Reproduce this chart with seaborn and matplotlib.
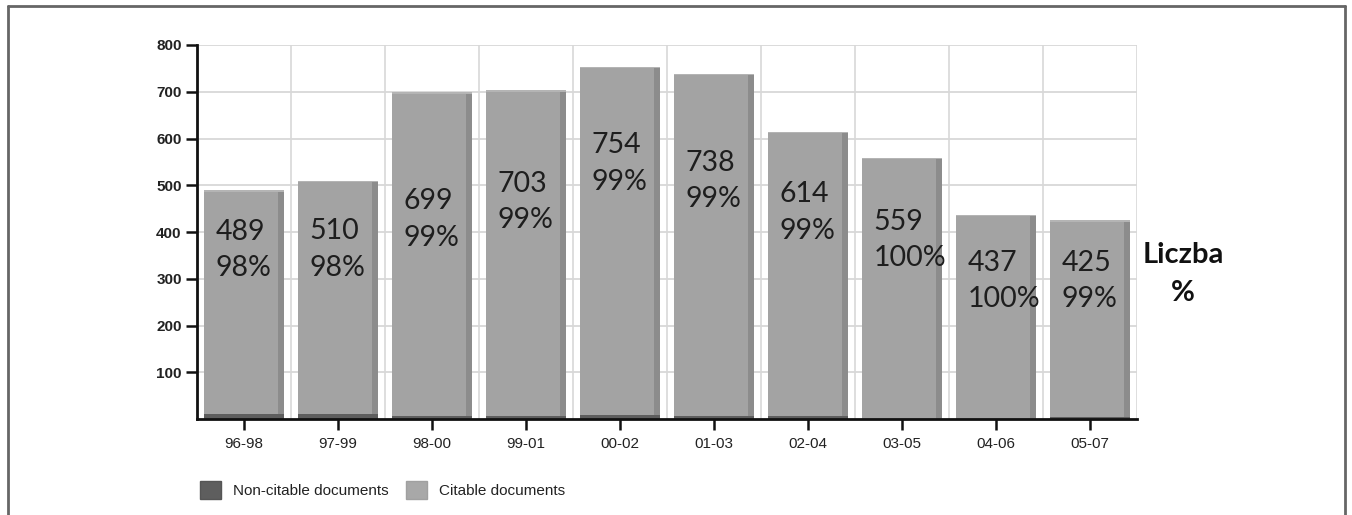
import matplotlib
matplotlib.use("Agg")
import matplotlib.pyplot as plt
import seaborn as sns
import pandas as pd
from matplotlib.patches import Rectangle, Patch
from matplotlib.lines import Line2D

# ---------------- data ----------------
periods = ["96-98", "97-99", "98-00", "99-01", "00-02",
           "01-03", "02-04", "03-05", "04-06", "05-07"]
total_docs = [489, 510, 699, 703, 754, 738, 614, 559, 437, 425]
citable_pct = [98, 98, 99, 99, 99, 99, 99, 100, 100, 99]
noncitable_docs = [10, 10, 7, 7, 8, 7, 6, 1, 1, 4]
y_ticks = [100, 200, 300, 400, 500, 600, 700, 800]
legend_labels = ["Non-citable documents", "Citable documents"]
side_text = "Liczba\n%"

# layout: vertical position of each label block as a fraction of bar height
label_frac = [0.74, 0.71, 0.61, 0.66, 0.725, 0.69, 0.72, 0.685, 0.675, 0.695]

df = pd.DataFrame({"period": periods, "total": total_docs,
                   "noncit": noncitable_docs, "pct": citable_pct})

sns.set_style("white")
plt.rcParams["font.family"] = ["Liberation Sans", "DejaVu Sans"]

CIT = "#a3a3a3"
SIDE = "#8c8c8c"
NONCIT = "#5e5e5e"

fig = plt.figure(figsize=(13.52, 5.15), dpi=100)
ax = fig.add_axes([197 / 1352, 1 - 419 / 515, (1137 - 197) / 1352, (419 - 45) / 515])

sns.barplot(data=df, x="period", y="total", color=CIT, width=0.85,
            saturation=1, ax=ax, zorder=3, edgecolor="none")
sns.barplot(data=df, x="period", y="noncit", color=NONCIT, width=0.85,
            saturation=1, ax=ax, zorder=4, edgecolor="none")

# 3D-ish darker right side and light top edge for each bar
for p in ax.containers[0].patches:
    x0, w, h = p.get_x(), p.get_width(), p.get_height()
    sw = w * 0.075
    ax.add_patch(Rectangle((x0 + w - sw, 0), sw, h, facecolor=SIDE,
                           edgecolor="none", zorder=3.5))
    ax.add_patch(Rectangle((x0, h - 3), w, 3, facecolor="#b4b4b4",
                           edgecolor="none", zorder=3.6))

# labels inside bars
for i, p in enumerate(ax.containers[0].patches):
    x0, h = p.get_x(), p.get_height()
    ax.text(x0 + 0.12, h * label_frac[i], f"{total_docs[i]}\n{citable_pct[i]}%",
            ha="left", va="center", fontsize=20.5, color="#1e1e1e",
            family=["Lato", "DejaVu Sans"], linespacing=1.5, zorder=6)

ax.set_xlim(-0.5, len(periods) - 0.5)
ax.set_ylim(0, 800)
ax.set_yticks(y_ticks)
ax.set_xlabel("")
ax.set_ylabel("")

# grid
ax.set_axisbelow(True)
for yv in y_ticks:
    ax.axhline(yv, color="#d4d4d4", lw=1.2, zorder=1)
for k in range(len(periods)):
    ax.axvline(k + 0.5, color="#d8d8d8", lw=1.2, zorder=1)

for s in ["top", "right"]:
    ax.spines[s].set_visible(False)
ax.spines["left"].set_color("#111111")
ax.spines["left"].set_linewidth(2)
ax.spines["bottom"].set_color("#111111")
ax.spines["bottom"].set_linewidth(2)
ax.spines["bottom"].set_zorder(7)

ax.tick_params(axis="y", direction="out", length=8, width=1.8, color="#111111",
               labelsize=11, labelcolor="#222222", pad=3, left=True)
ax.tick_params(axis="x", direction="out", length=8, width=1.8, color="#111111",
               labelsize=11, labelcolor="#222222", pad=5, bottom=True)
for t in ax.get_yticklabels():
    t.set_fontweight("bold")

# side text
fig.text(1183 / 1352, 1 - 274 / 515, side_text, ha="center", va="center",
         fontsize=21, fontweight="bold", color="#111111",
         family=["Lato", "DejaVu Sans"], linespacing=1.55)

# legend
handles = [Patch(facecolor=NONCIT, edgecolor="#555555"),
           Patch(facecolor="#a8a8a8", edgecolor="#a0a0a0")]
leg = fig.legend(handles, legend_labels, loc="center left",
                 bbox_to_anchor=(186 / 1352, 1 - 490 / 515), ncol=2, frameon=False,
                 fontsize=11, handlelength=1.4, handleheight=1.4,
                 columnspacing=1.1, handletextpad=0.8)
for t in leg.get_texts():
    t.set_color("#222222")

# outer frame
fc = "#666666"
fig.add_artist(Line2D([8 / 1352, 1345 / 1352], [1 - 6 / 515, 1 - 6 / 515],
                      transform=fig.transFigure, color=fc, lw=2))
fig.add_artist(Line2D([8 / 1352, 8 / 1352], [0, 1 - 6 / 515],
                      transform=fig.transFigure, color=fc, lw=2))
fig.add_artist(Line2D([1345 / 1352, 1345 / 1352], [0, 1 - 6 / 515],
                      transform=fig.transFigure, color=fc, lw=2))

fig.savefig("out.png", dpi=100)
